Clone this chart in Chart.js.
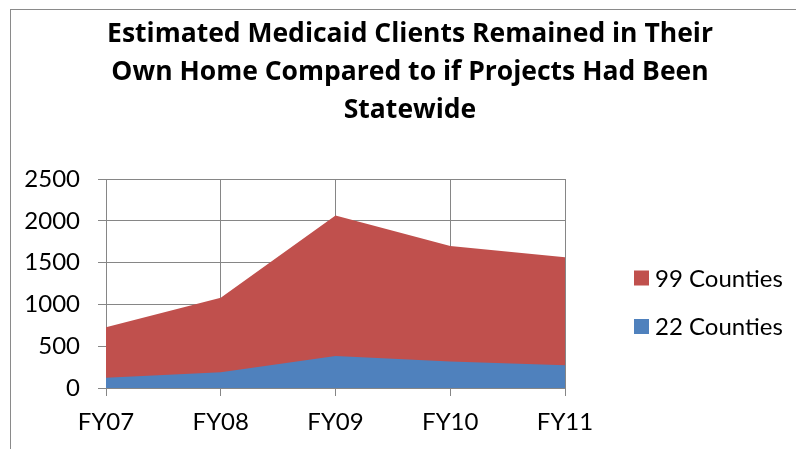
<!DOCTYPE html>
<html>
<head>
<meta charset="utf-8">
<script src="https://cdn.jsdelivr.net/npm/chart.js@4"></script>
<style>
  body { margin: 0; background: #fff; }
  #wrap { position: relative; width: 796px; height: 449px; overflow: hidden; }
  #frame { position: absolute; left: 10px; top: 9px; width: 900px; height: 600px;
           border-left: 1px solid #8a8a8a; border-top: 1px solid #8a8a8a; pointer-events: none; }
</style>
</head>
<body>
<div id="wrap">
  <canvas id="chart" width="796" height="449"></canvas>
  <div id="frame"></div>
</div>
<script>
const titleLines = ['Estimated Medicaid Clients Remained in Their', 'Own Home Compared to if Projects Had Been', 'Statewide'];
const categories = ['FY07', 'FY08', 'FY09', 'FY10', 'FY11'];
const counties22 = [124, 188, 384, 316, 272];
const counties99 = [728, 1080, 2064, 1700, 1564];
const seriesNames = ['22 Counties', '99 Counties'];

const gridColor = '#868686';
const tickFont = { family: 'Lato', size: 24 };

// legend is drawn by hand to sit where the original one sits
const sideLegend = {
  id: 'sideLegend',
  afterDraw(chart) {
    const ctx = chart.ctx;
    const area = chart.chartArea;
    const items = chart.data.datasets.slice().reverse();
    ctx.save();
    ctx.font = '24px Lato';
    ctx.textBaseline = 'middle';
    items.forEach(function (ds, i) {
      const x = area.right + 69;
      const y = area.top + 99 + i * 48.5;
      ctx.fillStyle = ds.backgroundColor;
      ctx.fillRect(x, y - 7.5, 15, 15);
      ctx.fillStyle = '#000';
      ctx.fillText(ds.label, x + 21, y + 1);
    });
    ctx.restore();
  }
};

new Chart(document.getElementById('chart').getContext('2d'), {
  type: 'line',
  data: {
    labels: categories,
    datasets: [
      {
        label: seriesNames[0],
        data: counties22,
        backgroundColor: '#4F81BD',
        borderColor: 'rgba(0,0,0,0)',
        fill: 'origin',
        pointRadius: 0,
        tension: 0
      },
      {
        label: seriesNames[1],
        data: counties99,
        backgroundColor: '#C0504D',
        borderColor: 'rgba(0,0,0,0)',
        fill: 'origin',
        pointRadius: 0,
        tension: 0
      }
    ]
  },
  options: {
    responsive: false,
    animation: false,
    events: [],
    layout: { padding: { left: 24, right: 0, top: 0, bottom: 0 } },
    plugins: {
      legend: { display: false },
      tooltip: { enabled: false },
      title: {
        display: true,
        text: titleLines,
        color: '#000',
        font: { family: 'Open Sans', size: 26.5, weight: 'bold', lineHeight: 38 / 26.5 },
        padding: { top: 15, bottom: 50 }
      }
    },
    scales: {
      x: {
        offset: false,
        grid: { color: gridColor, tickLength: 8 },
        border: { color: gridColor },
        ticks: { color: '#000', font: tickFont, padding: 12, maxRotation: 0 },
        afterFit: function (s) { s.height = 61; }
      },
      y: {
        min: 0,
        max: 2500,
        grid: { color: gridColor, tickLength: 8 },
        border: { color: gridColor },
        ticks: {
          stepSize: 500, color: '#000', font: tickFont, padding: 18,
          callback: function (v) { return String(v); }
        },
        afterFit: function (s) { s.width = 82; }
      },
      yr: {
        axis: 'y',
        position: 'right',
        grid: { display: false },
        border: { display: false },
        ticks: { display: false },
        afterFit: function (s) { s.width = 231; }
      }
    }
  },
  plugins: [sideLegend]
});
</script>
</body>
</html>
